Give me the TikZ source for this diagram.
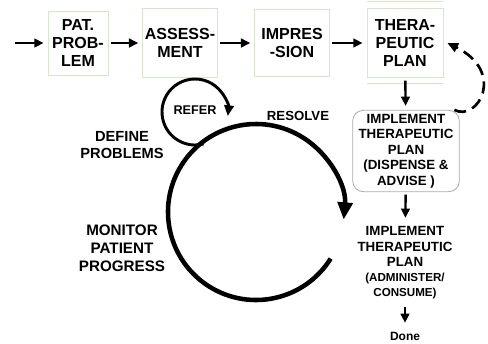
\documentclass[tikz,border=0pt]{standalone}
\usepackage{fontspec}
\setmainfont{Liberation Sans}
\usetikzlibrary{arrows.meta}

\tikzset{every picture/.style={line width=0.75pt}}
\tikzset{
	box/.style={draw={rgb, 255:red, 214; green, 232; blue, 202}, line width=0.6pt, align=center, font=\fontsize{12}{13.5}\selectfont\bfseries, inner sep=0pt},
	implbox/.style={draw={rgb, 255:red, 170; green, 170; blue, 170}, rounded corners=8pt, line width=0.6pt, align=center, font=\fontsize{10}{11.6}\selectfont\bfseries, inner sep=0pt},
	lbl/.style={align=center, font=\fontsize{11}{13}\selectfont\bfseries},
	arr/.style={line width=1.8pt, -{Triangle[length=7pt,width=6.5pt]}, shorten <=2pt, shorten >=3pt},
	dasharr/.style={line width=2pt, dash pattern=on 9pt off 5pt, -{Triangle[length=8pt,width=7pt]}},
}

\begin{document}
\begin{tikzpicture}[x=0.75pt,y=0.75pt,yscale=-1,xscale=1]
	\useasboundingbox (0,0) rectangle (488,343);

	% Top row
	\coordinate (start) at (12,43);
	\node[box, minimum width=45pt, minimum height=48pt] (prob) at (78,43) {PAT.\\PROB-\\LEM};
	\node[box, minimum width=56pt, minimum height=52pt] (assess) at (180,43) {ASSESS-\\MENT};
	\node[box, minimum width=56pt, minimum height=50pt] (impr) at (292,43) {IMPRES\\-SION};
	\node[box, minimum width=57pt, minimum height=52pt] (plan) at (405,43) {THERA-\\PEUTIC\\PLAN};
	% inner rules of plan box
	\draw[draw={rgb, 255:red, 214; green, 232; blue, 202}, line width=0.6pt] ([yshift=-5pt]plan.north west) -- ([yshift=-5pt]plan.north east);
	\draw[draw={rgb, 255:red, 214; green, 232; blue, 202}, line width=0.6pt] ([yshift=4pt]plan.south west) -- ([yshift=4pt]plan.south east);

	% Right column
	\node[implbox, minimum width=80pt, minimum height=61pt] (impl) at (406,151) {IMPLEMENT\\THERAPEUTIC\\PLAN\\(DISPENSE \&\\ADVISE )};
	\node[align=center, font=\fontsize{10}{11.4}\selectfont\bfseries] (admin) at (405,263) {IMPLEMENT\\THERAPEUTIC\\PLAN\\{\fontsize{8.7}{11.4}\selectfont (ADMINISTER/}\\{\fontsize{8.7}{11.4}\selectfont CONSUME)}};
	\node[font=\fontsize{9}{10}\selectfont\bfseries] (done) at (405,336) {Done};

	% Cycle labels
	\node[font=\fontsize{9.5}{11}\selectfont\bfseries] (refer) at (195,110) {REFER};
	\node[lbl] (define) at (122,145) {DEFINE\\PROBLEMS};
	\node[lbl, font=\fontsize{9.9}{11}\selectfont\bfseries] (resolve) at (298,116) {RESOLVE};
	\node[lbl, font=\fontsize{11.4}{13.5}\selectfont\bfseries] (monitor) at (122,248) {MONITOR\\PATIENT\\PROGRESS};

	% Arrows
	\draw[arr] (start) -- (prob);
	\draw[arr] (prob) -- (assess);
	\draw[arr] (assess) -- (impr);
	\draw[arr] (impr) -- (plan);
	\draw[arr] (plan) -- (impl);
	\draw[arr] (impl) -- (admin);
	\draw[arr] (admin) -- (done);
	% Dashed feedback
	\draw[dasharr] ([xshift=-4pt]impl.north east) .. controls (478,122) and (506,72) .. ([xshift=3pt]plan.east);

	% Big cycle
	\draw[line width=3.4pt, -{Triangle[length=13pt,width=11pt]}] (256,212) ++(32:88) arc[start angle=32, end angle=365, radius=88];
	% Refer loop
	\draw[line width=2.2pt, -{Triangle[length=8pt,width=7pt]}] (195,112) ++(75:33) arc[start angle=75, end angle=367, radius=33];

\end{tikzpicture}
\end{document}
